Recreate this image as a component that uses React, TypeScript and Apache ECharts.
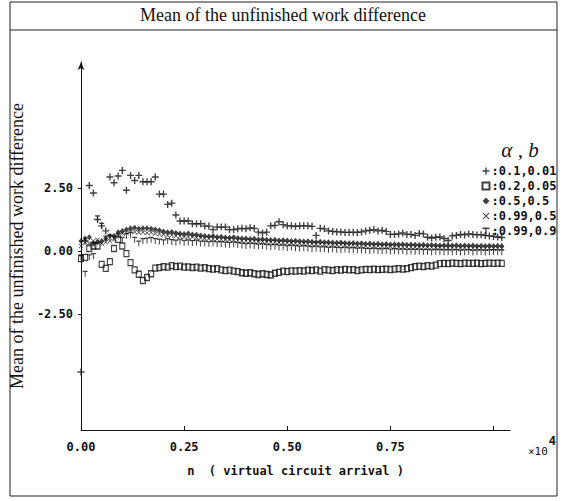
import React, { useEffect, useRef } from "react";
import * as echarts from "echarts";

const N_POS: number[] = Array.from({ length: 103 }, (_, i) => i / 100);

const PLUS: number[] = [
  -4.8, 0.4, 2.6, 2.3, 1.25, 1.0, 0.8, 2.94, 2.71, 2.98,
  3.2, 2.41, 3.0, 2.8, 3.0, 2.75, 2.75, 2.75, 2.94, 2.26,
  2.26, 1.85, 1.9, 1.43, 1.19, 1.19, 1.19, 1.08, 1.08, 1.08,
  0.99, 0.99, 0.85, 0.95, 0.95, 0.95, 0.85, 0.85, 0.88, 0.9,
  0.88, 0.92, 0.9, 0.75, 0.72, 0.75, 1.0, 1.02, 1.16, 1.05,
  1.0, 1.0, 0.98, 1.0, 1.0, 1.0, 0.98, 0.62, 0.9, 0.88,
  0.8, 0.78, 0.76, 0.76, 0.74, 0.74, 0.75, 0.74, 0.76, 0.8,
  0.82, 0.85, 0.8, 0.82, 0.78, 0.66, 0.66, 0.68, 0.72, 0.66,
  0.66, 0.62, 0.7, 0.68, 0.55, 0.52, 0.55, 0.56, 0.5, 0.42,
  0.6, 0.62, 0.66, 0.64, 0.68, 0.66, 0.64, 0.65, 0.62, 0.6,
  0.58, 0.56, 0.54,
];

const SQUARE: number[] = [
  -0.3, -0.25, 0.1, 0.2, 0.2, -0.53, -0.69, -0.42, 0.1, 0.46,
  0.2, -0.1, -0.46, -0.75, -0.92, -1.17, -1.05, -0.9, -0.68, -0.66,
  -0.62, -0.64, -0.58, -0.62, -0.6, -0.64, -0.63, -0.66, -0.64, -0.68,
  -0.66, -0.7, -0.72, -0.7, -0.75, -0.78, -0.76, -0.8, -0.82, -0.86,
  -0.88, -0.86, -0.9, -0.93, -0.9, -0.93, -0.95, -0.88, -0.85, -0.8,
  -0.82, -0.79, -0.8, -0.78, -0.8, -0.76, -0.78, -0.75, -0.8, -0.74,
  -0.76, -0.78, -0.74, -0.76, -0.73, -0.75, -0.74, -0.78, -0.75, -0.73,
  -0.74, -0.72, -0.74, -0.73, -0.72, -0.74, -0.72, -0.7, -0.72, -0.7,
  -0.66, -0.62, -0.6, -0.62, -0.58, -0.6, -0.56, -0.5, -0.49, -0.5,
  -0.48, -0.49, -0.5, -0.48, -0.49, -0.49, -0.48, -0.5, -0.49, -0.48,
  -0.49, -0.48, -0.49,
];

const DIAMOND: number[] = [
  0.4, 0.5, 0.55, 0.3, 0.35, 0.4, 0.5, 0.6, 0.6, 0.75,
  0.8, 0.85, 0.9, 0.92, 0.88, 0.9, 0.9, 0.88, 0.85, 0.82,
  0.78, 0.75, 0.76, 0.72, 0.7, 0.68, 0.7, 0.66, 0.65, 0.62,
  0.6, 0.58, 0.6, 0.56, 0.57, 0.54, 0.53, 0.55, 0.52, 0.5,
  0.5, 0.48, 0.49, 0.46, 0.47, 0.45, 0.44, 0.45, 0.42, 0.43,
  0.42, 0.4, 0.41, 0.39, 0.38, 0.39, 0.37, 0.36, 0.37, 0.35,
  0.35, 0.34, 0.33, 0.34, 0.32, 0.31, 0.32, 0.3, 0.31, 0.29,
  0.3, 0.28, 0.29, 0.27, 0.28, 0.26, 0.27, 0.26, 0.27, 0.25,
  0.26, 0.25, 0.24, 0.25, 0.23, 0.24, 0.23, 0.22, 0.23, 0.22,
  0.22, 0.23, 0.21, 0.22, 0.21, 0.22, 0.2, 0.21, 0.2, 0.21,
  0.2, 0.21, 0.2,
];

const CROSS: number[] = [
  0.2, 0.35, 0.3, 0.4, 0.45, 0.3, 0.35, 0.4, 0.5, 0.6,
  0.7, 0.72, 0.78, 0.76, 0.74, 0.75, 0.72, 0.74, 0.7, 0.68,
  0.65, 0.62, 0.63, 0.6, 0.6, 0.57, 0.56, 0.56, 0.53, 0.52,
  0.5, 0.5, 0.48, 0.48, 0.46, 0.45, 0.46, 0.44, 0.42, 0.41,
  0.4, 0.4, 0.39, 0.37, 0.38, 0.36, 0.35, 0.36, 0.34, 0.33,
  0.32, 0.33, 0.31, 0.3, 0.31, 0.29, 0.28, 0.29, 0.27, 0.26,
  0.26, 0.25, 0.24, 0.25, 0.23, 0.22, 0.23, 0.21, 0.22, 0.2,
  0.2, 0.19, 0.2, 0.18, 0.18, 0.19, 0.17, 0.16, 0.17, 0.16,
  0.16, 0.15, 0.16, 0.14, 0.15, 0.14, 0.13, 0.14, 0.13, 0.12,
  0.13, 0.12, 0.12, 0.13, 0.12, 0.11, 0.12, 0.11, 0.1, 0.11,
  0.1, 0.11, 0.1,
];

const TEE: number[] = [
  -0.25, -0.9, -0.25, -0.2, 1.3, 1.0, 0.5, 0.55, 0.5, 0.6,
  0.45, 0.6, 0.65, 0.45, 0.3, 0.4, 0.42, 0.45, 0.4, 0.38,
  0.35, 0.4, 0.36, 0.34, 0.38, 0.33, 0.35, 0.32, 0.34, 0.3,
  0.3, 0.28, 0.3, 0.27, 0.28, 0.26, 0.25, 0.27, 0.24, 0.22,
  0.2, 0.22, 0.2, 0.18, 0.2, 0.17, 0.15, 0.17, 0.14, 0.15,
  0.12, 0.14, 0.12, 0.1, 0.12, 0.1, 0.08, 0.1, 0.07, 0.08,
  0.05, 0.07, 0.05, 0.04, 0.06, 0.03, 0.04, 0.02, 0.03, 0.01,
  0.0, 0.02, 0.0, -0.01, 0.01, -0.02, 0.0, -0.02, -0.01, -0.03,
  -0.02, -0.03, -0.02, -0.04, -0.03, -0.05, -0.03, -0.04, -0.05, -0.04,
  -0.05, -0.04, -0.06, -0.05, -0.04, -0.06, -0.05, -0.05, -0.06, -0.05,
  -0.04, -0.05, -0.05,
];

const SERIES_NAMES: string[] = ["0.1,0.01", "0.2,0.05", "0.5,0.5", "0.99,0.5", "0.99,0.9"];
const X_TICKS: number[] = [0, 0.25, 0.5, 0.75, 1.0];
const Y_LABELS: number[] = [-2.5, 0, 2.5];

const TITLE = "Mean of the unfinished work difference";
const Y_NAME = "Mean of the unfinished work difference";
const X_NAME = "n  ( virtual circuit arrival )";

const MONO = "'DejaVu Sans Mono', monospace";
const SERIF = "'Liberation Serif', 'DejaVu Serif', serif";

const SYM_PLUS = "path://M4,0H6V4H10V6H6V10H4V6H0V4H4Z";
const SYM_CROSS = "path://M0,1L1,0L5,4L9,0L10,1L6,5L10,9L9,10L5,6L1,10L0,9L4,5Z";
const SYM_TEE = "path://M0,0H10V2H6V10H4V2H0Z";

export default function App() {
  const ref = useRef<HTMLDivElement>(null);
  useEffect(() => {
    document.body.style.margin = "0";
    if (!ref.current) return;
    const chart = echarts.init(ref.current, null, { renderer: "svg" });
    const mk = (vals: number[]) => N_POS.map((x, i) => [x, vals[i]]);
    const symbols: any[] = [SYM_PLUS, "rect", "diamond", SYM_CROSS, SYM_TEE];
    const sizes: any[] = [7, [5, 6], [5, 6], [5, 5], [5, 6]];
    const all = [PLUS, SQUARE, DIAMOND, CROSS, TEE];
    const series = all.map((vals, k) => ({
      name: SERIES_NAMES[k],
      type: "scatter",
      data: mk(vals),
      symbol: symbols[k],
      symbolSize: sizes[k],
      itemStyle:
        k === 1
          ? { color: "none", borderColor: "#111", borderWidth: 1.2 }
          : { color: "#111" },
      z: 5 - k,
    }));
    chart.setOption({
      animation: false,
      backgroundColor: "#fff",
      grid: { left: 78, right: 52, top: 62, bottom: 71 },
      xAxis: {
        type: "value",
        min: 0,
        max: 1.04,
        interval: 0.25,
        name: X_NAME,
        nameLocation: "middle",
        nameGap: 35,
        nameTextStyle: { fontFamily: MONO, fontWeight: "bold", fontSize: 12, color: "#111" },
        axisLine: { show: true, onZero: false, lineStyle: { color: "#111", width: 1 } },
        axisTick: { show: true, inside: true, length: 4, customValues: X_TICKS, lineStyle: { color: "#111" } },
        axisLabel: {
          margin: 11,
          fontFamily: MONO,
          fontWeight: "bold",
          fontSize: 12,
          color: "#111",
          formatter: (v: number) => (v >= 1 ? "" : v.toFixed(2)),
        },
        splitLine: { show: false },
      },
      yAxis: {
        type: "value",
        min: -7.1,
        max: 7.5,
        name: Y_NAME,
        nameLocation: "middle",
        nameGap: 50,
        nameRotate: 90,
        nameTextStyle: { fontFamily: SERIF, fontSize: 18, color: "#111" },
        axisLine: {
          show: true,
          onZero: false,
          symbol: ["none", "arrow"],
          symbolSize: [5, 8],
          lineStyle: { color: "#111", width: 1 },
        },
        axisTick: { show: true, length: 3, customValues: Y_LABELS, lineStyle: { color: "#111" } },
        axisLabel: {
          margin: 8,
          customValues: Y_LABELS,
          fontFamily: MONO,
          fontWeight: "bold",
          fontSize: 12,
          color: "#111",
          formatter: (v: number) => v.toFixed(2),
        },
        splitLine: { show: false },
      },
      legend: {
        orient: "vertical",
        left: 475,
        top: 160,
        itemWidth: 7,
        itemHeight: 7,
        itemGap: 3,
        formatter: (n: string) => ":" + n,
        textStyle: { fontFamily: MONO, fontWeight: "bold", fontSize: 12, color: "#111", padding: [0, 0, 0, -3] },
        data: SERIES_NAMES,
      },
      graphic: [
        { type: "rect", shape: { x: 10, y: 2, width: 547, height: 494 }, style: { fill: "none", stroke: "#222", lineWidth: 1 } },
        { type: "line", shape: { x1: 10, y1: 30, x2: 557, y2: 30 }, style: { stroke: "#222", lineWidth: 1.2 } },
        {
          type: "text",
          x: 283,
          y: 15,
          style: { text: TITLE, fontFamily: SERIF, fontSize: 18, fill: "#111", align: "center", verticalAlign: "middle" },
        },
        {
          type: "text",
          x: 520,
          y: 150,
          style: { text: "α , b", fontFamily: SERIF, fontStyle: "italic", fontSize: 21, fill: "#111", align: "center", verticalAlign: "middle" },
        },
        {
          type: "text",
          x: 528,
          y: 446,
          style: {
            text: "{a|×10}{b|4}",
            rich: {
              a: { fontFamily: MONO, fontSize: 11, fill: "#111", verticalAlign: "bottom" },
              b: { fontFamily: MONO, fontWeight: "bold", fontSize: 12, fill: "#111", padding: [0, 0, 10, 1] },
            },
            verticalAlign: "middle",
          },
        },
      ],
      series,
    });
    return () => chart.dispose();
  }, []);
  return <div ref={ref} style={{ width: 562, height: 501 }} />;
}
